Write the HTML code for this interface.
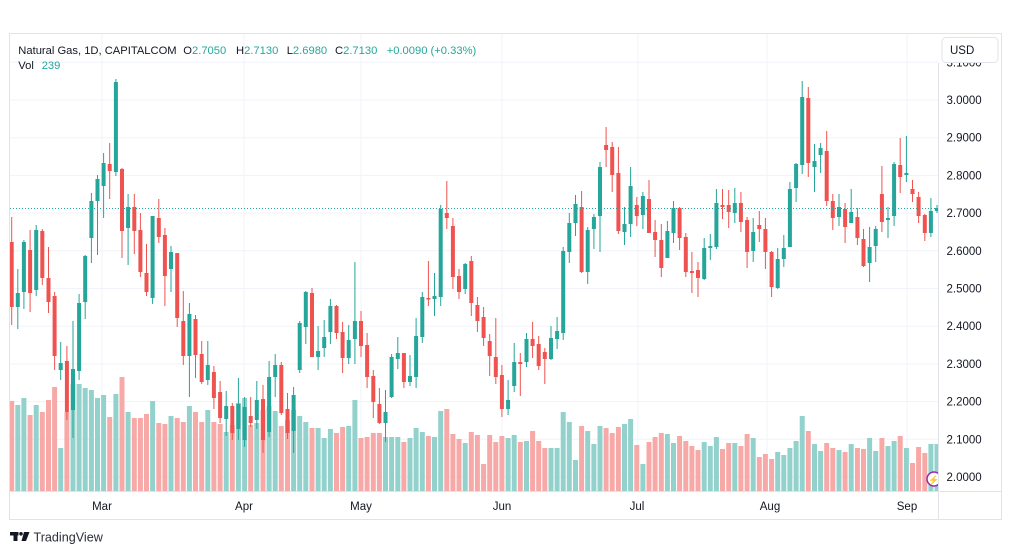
<!DOCTYPE html>
<html><head><meta charset="utf-8"><style>
html,body{margin:0;padding:0;background:#fff;}
svg{display:block;font-family:"Liberation Sans",sans-serif;}
.g{fill:#26a69a}.r{fill:#ef5350}.gv{fill:#93d2cc}.rv{fill:#f7a9a7}
</style></head><body>
<svg width="1012" height="555" viewBox="0 0 1012 555" xmlns="http://www.w3.org/2000/svg">
<defs><clipPath id="pc"><rect x="10" y="34" width="928.5" height="457"/></clipPath></defs>
<rect x="0" y="0" width="1012" height="555" fill="#fff"/>
<g stroke="#f0f3fa" stroke-width="1">
<line x1="10" y1="62.3" x2="938.5" y2="62.3"/><line x1="10" y1="100" x2="938.5" y2="100"/><line x1="10" y1="137.7" x2="938.5" y2="137.7"/><line x1="10" y1="175.4" x2="938.5" y2="175.4"/><line x1="10" y1="213.1" x2="938.5" y2="213.1"/><line x1="10" y1="250.8" x2="938.5" y2="250.8"/><line x1="10" y1="288.5" x2="938.5" y2="288.5"/><line x1="10" y1="326.2" x2="938.5" y2="326.2"/><line x1="10" y1="363.9" x2="938.5" y2="363.9"/><line x1="10" y1="401.6" x2="938.5" y2="401.6"/><line x1="10" y1="439.3" x2="938.5" y2="439.3"/><line x1="10" y1="477" x2="938.5" y2="477"/>
<line x1="102" y1="34" x2="102" y2="491"/><line x1="244" y1="34" x2="244" y2="491"/><line x1="361" y1="34" x2="361" y2="491"/><line x1="502" y1="34" x2="502" y2="491"/><line x1="638" y1="34" x2="638" y2="491"/><line x1="767" y1="34" x2="767" y2="491"/><line x1="907" y1="34" x2="907" y2="491"/>
</g>
<g clip-path="url(#pc)">
<g>
<rect class="rv" x="9.2" y="401" width="5" height="90"/><rect class="gv" x="15.3" y="405" width="5" height="86"/><rect class="gv" x="21.4" y="398" width="5" height="93"/><rect class="rv" x="27.6" y="415" width="5" height="76"/><rect class="gv" x="33.7" y="405" width="5" height="86"/><rect class="rv" x="39.8" y="412" width="5" height="79"/><rect class="rv" x="46" y="400" width="5" height="91"/><rect class="rv" x="52.1" y="387" width="5" height="104"/><rect class="gv" x="58.2" y="448" width="5" height="43"/><rect class="rv" x="64.4" y="412" width="5" height="79"/>
<rect class="gv" x="70.5" y="384" width="5" height="107"/><rect class="gv" x="76.6" y="384" width="5" height="107"/><rect class="gv" x="82.7" y="388" width="5" height="103"/><rect class="gv" x="88.9" y="390" width="5" height="101"/><rect class="gv" x="95" y="398" width="5" height="93"/><rect class="gv" x="101.1" y="395" width="5" height="96"/><rect class="rv" x="107.2" y="417" width="5" height="74"/><rect class="gv" x="113.4" y="394" width="5" height="97"/><rect class="rv" x="119.5" y="377" width="5" height="114"/><rect class="gv" x="125.6" y="412" width="5" height="79"/>
<rect class="rv" x="131.8" y="418" width="5" height="73"/><rect class="rv" x="137.9" y="418" width="5" height="73"/><rect class="rv" x="144" y="414" width="5" height="77"/><rect class="gv" x="150.1" y="401" width="5" height="90"/><rect class="rv" x="156.3" y="423" width="5" height="68"/><rect class="rv" x="162.4" y="424" width="5" height="67"/><rect class="gv" x="168.5" y="416" width="5" height="75"/><rect class="rv" x="174.7" y="418" width="5" height="73"/><rect class="rv" x="180.8" y="422" width="5" height="69"/><rect class="gv" x="186.9" y="406" width="5" height="85"/>
<rect class="rv" x="193" y="412" width="5" height="79"/><rect class="rv" x="199.2" y="422" width="5" height="69"/><rect class="gv" x="205.3" y="410" width="5" height="81"/><rect class="rv" x="211.4" y="422" width="5" height="69"/><rect class="rv" x="217.6" y="424" width="5" height="67"/><rect class="gv" x="223.7" y="432" width="5" height="59"/><rect class="rv" x="229.8" y="425" width="5" height="66"/><rect class="gv" x="235.9" y="403" width="5" height="88"/><rect class="gv" x="242.1" y="398" width="5" height="93"/><rect class="rv" x="248.2" y="425" width="5" height="66"/>
<rect class="gv" x="254.3" y="423" width="5" height="68"/><rect class="rv" x="260.5" y="410" width="5" height="81"/><rect class="gv" x="266.6" y="406" width="5" height="85"/><rect class="gv" x="272.7" y="411" width="5" height="80"/><rect class="rv" x="278.8" y="426" width="5" height="65"/><rect class="rv" x="285" y="420" width="5" height="71"/><rect class="gv" x="291.1" y="410" width="5" height="81"/><rect class="gv" x="297.2" y="416" width="5" height="75"/><rect class="gv" x="303.3" y="422" width="5" height="69"/><rect class="rv" x="309.5" y="428" width="5" height="63"/>
<rect class="gv" x="315.6" y="428" width="5" height="63"/><rect class="gv" x="321.7" y="438" width="5" height="53"/><rect class="gv" x="327.9" y="429" width="5" height="62"/><rect class="rv" x="334" y="433" width="5" height="58"/><rect class="rv" x="340.1" y="427" width="5" height="64"/><rect class="gv" x="346.2" y="426" width="5" height="65"/><rect class="gv" x="352.4" y="400" width="5" height="91"/><rect class="rv" x="358.5" y="438" width="5" height="53"/><rect class="rv" x="364.6" y="437" width="5" height="54"/><rect class="rv" x="370.8" y="433" width="5" height="58"/>
<rect class="rv" x="376.9" y="433" width="5" height="58"/><rect class="gv" x="383" y="437" width="5" height="54"/><rect class="gv" x="389.1" y="437" width="5" height="54"/><rect class="gv" x="395.3" y="437" width="5" height="54"/><rect class="rv" x="401.4" y="442" width="5" height="49"/><rect class="gv" x="407.5" y="438" width="5" height="53"/><rect class="gv" x="413.6" y="428" width="5" height="63"/><rect class="gv" x="419.8" y="432" width="5" height="59"/><rect class="rv" x="425.9" y="436" width="5" height="55"/><rect class="gv" x="432" y="437" width="5" height="54"/>
<rect class="gv" x="438.2" y="411" width="5" height="80"/><rect class="rv" x="444.3" y="409" width="5" height="82"/><rect class="rv" x="450.4" y="434" width="5" height="57"/><rect class="rv" x="456.5" y="439" width="5" height="52"/><rect class="gv" x="462.7" y="443" width="5" height="48"/><rect class="rv" x="468.8" y="432" width="5" height="59"/><rect class="rv" x="474.9" y="435" width="5" height="56"/><rect class="rv" x="481.1" y="464" width="5" height="27"/><rect class="rv" x="487.2" y="435" width="5" height="56"/><rect class="rv" x="493.3" y="442" width="5" height="49"/>
<rect class="rv" x="499.4" y="436" width="5" height="55"/><rect class="gv" x="505.6" y="438" width="5" height="53"/><rect class="gv" x="511.7" y="435" width="5" height="56"/><rect class="rv" x="517.8" y="442" width="5" height="49"/><rect class="gv" x="524" y="441" width="5" height="50"/><rect class="rv" x="530.1" y="431" width="5" height="60"/><rect class="rv" x="536.2" y="441" width="5" height="50"/><rect class="rv" x="542.3" y="448" width="5" height="43"/><rect class="gv" x="548.5" y="448" width="5" height="43"/><rect class="gv" x="554.6" y="448" width="5" height="43"/>
<rect class="gv" x="560.7" y="412" width="5" height="79"/><rect class="gv" x="566.8" y="422" width="5" height="69"/><rect class="gv" x="573" y="460" width="5" height="31"/><rect class="rv" x="579.1" y="426" width="5" height="65"/><rect class="gv" x="585.2" y="431" width="5" height="60"/><rect class="gv" x="591.4" y="444" width="5" height="47"/><rect class="gv" x="597.5" y="426" width="5" height="65"/><rect class="rv" x="603.6" y="428" width="5" height="63"/><rect class="rv" x="609.7" y="433" width="5" height="58"/><rect class="rv" x="615.9" y="427" width="5" height="64"/>
<rect class="gv" x="622" y="424" width="5" height="67"/><rect class="gv" x="628.1" y="419" width="5" height="72"/><rect class="rv" x="634.3" y="445" width="5" height="46"/><rect class="gv" x="640.4" y="464" width="5" height="27"/><rect class="rv" x="646.5" y="442" width="5" height="49"/><rect class="rv" x="652.6" y="437" width="5" height="54"/><rect class="rv" x="658.8" y="433" width="5" height="58"/><rect class="gv" x="664.9" y="434" width="5" height="57"/><rect class="gv" x="671" y="443" width="5" height="48"/><rect class="rv" x="677.1" y="436" width="5" height="55"/>
<rect class="rv" x="683.3" y="441" width="5" height="50"/><rect class="rv" x="689.4" y="446" width="5" height="45"/><rect class="rv" x="695.5" y="450" width="5" height="41"/><rect class="gv" x="701.7" y="442" width="5" height="49"/><rect class="gv" x="707.8" y="446" width="5" height="45"/><rect class="gv" x="713.9" y="437" width="5" height="54"/><rect class="rv" x="720" y="449" width="5" height="42"/><rect class="rv" x="726.2" y="443" width="5" height="48"/><rect class="gv" x="732.3" y="443" width="5" height="48"/><rect class="rv" x="738.4" y="446" width="5" height="45"/>
<rect class="rv" x="744.6" y="434" width="5" height="57"/><rect class="gv" x="750.7" y="438" width="5" height="53"/><rect class="rv" x="756.8" y="457" width="5" height="34"/><rect class="rv" x="762.9" y="454" width="5" height="37"/><rect class="rv" x="769.1" y="459" width="5" height="32"/><rect class="gv" x="775.2" y="452" width="5" height="39"/><rect class="gv" x="781.3" y="455" width="5" height="36"/><rect class="gv" x="787.4" y="448" width="5" height="43"/><rect class="gv" x="793.6" y="441" width="5" height="50"/><rect class="gv" x="799.7" y="416" width="5" height="75"/>
<rect class="rv" x="805.8" y="431" width="5" height="60"/><rect class="gv" x="812" y="444" width="5" height="47"/><rect class="gv" x="818.1" y="451" width="5" height="40"/><rect class="rv" x="824.2" y="443" width="5" height="48"/><rect class="rv" x="830.3" y="448" width="5" height="43"/><rect class="gv" x="836.5" y="450" width="5" height="41"/><rect class="rv" x="842.6" y="452" width="5" height="39"/><rect class="gv" x="848.7" y="444" width="5" height="47"/><rect class="rv" x="854.9" y="448" width="5" height="43"/><rect class="rv" x="861" y="449" width="5" height="42"/>
<rect class="gv" x="867.1" y="438" width="5" height="53"/><rect class="gv" x="873.2" y="451" width="5" height="40"/><rect class="rv" x="879.4" y="438" width="5" height="53"/><rect class="gv" x="885.5" y="446" width="5" height="45"/><rect class="gv" x="891.6" y="441" width="5" height="50"/><rect class="rv" x="897.7" y="436" width="5" height="55"/><rect class="gv" x="903.9" y="448" width="5" height="43"/><rect class="rv" x="910" y="463" width="5" height="28"/><rect class="rv" x="916.1" y="447" width="5" height="44"/><rect class="rv" x="922.3" y="453" width="5" height="38"/>
<rect class="gv" x="928.4" y="444" width="5" height="47"/><rect class="gv" x="934.5" y="444" width="5" height="47"/>
</g>
<g>
<rect class="r" x="9.7" y="242" width="4" height="65"/><rect class="r" x="11.2" y="217" width="1" height="108"/>
<rect class="g" x="15.8" y="293" width="4" height="14"/><rect class="g" x="17.3" y="269" width="1" height="60"/>
<rect class="g" x="21.9" y="242" width="4" height="50"/><rect class="g" x="23.4" y="240" width="1" height="69"/>
<rect class="r" x="28.1" y="250" width="4" height="43"/><rect class="r" x="29.6" y="230" width="1" height="82"/>
<rect class="g" x="34.2" y="230" width="4" height="60"/><rect class="g" x="35.7" y="225" width="1" height="71"/>
<rect class="r" x="40.3" y="231" width="4" height="47"/><rect class="r" x="41.8" y="229" width="1" height="56"/>
<rect class="r" x="46.5" y="278" width="4" height="24"/><rect class="r" x="48" y="247" width="1" height="66"/>
<rect class="r" x="52.6" y="296" width="4" height="60"/><rect class="r" x="54.1" y="292" width="1" height="78"/>
<rect class="g" x="58.7" y="363" width="4" height="7"/><rect class="g" x="60.2" y="342" width="1" height="38"/>
<rect class="r" x="64.9" y="361" width="4" height="51"/><rect class="r" x="66.4" y="346" width="1" height="74"/>
<rect class="g" x="71" y="369" width="4" height="41"/><rect class="g" x="72.5" y="321" width="1" height="117"/>
<rect class="g" x="77.1" y="303" width="4" height="68"/><rect class="g" x="78.6" y="294" width="1" height="86"/>
<rect class="g" x="83.2" y="256" width="4" height="46"/><rect class="g" x="84.7" y="255" width="1" height="64"/>
<rect class="g" x="89.4" y="201" width="4" height="37"/><rect class="g" x="90.9" y="193" width="1" height="70"/>
<rect class="g" x="95.5" y="179" width="4" height="22"/><rect class="g" x="97" y="175" width="1" height="80"/>
<rect class="g" x="101.6" y="163" width="4" height="23"/><rect class="g" x="103.1" y="153" width="1" height="65"/>
<rect class="r" x="107.7" y="164" width="4" height="7"/><rect class="r" x="109.2" y="143" width="1" height="56"/>
<rect class="g" x="113.9" y="82" width="4" height="90"/><rect class="g" x="115.4" y="79" width="1" height="97"/>
<rect class="r" x="120" y="169" width="4" height="62"/><rect class="r" x="121.5" y="168" width="1" height="90"/>
<rect class="g" x="126.1" y="207" width="4" height="21"/><rect class="g" x="127.6" y="194" width="1" height="71"/>
<rect class="r" x="132.3" y="207" width="4" height="24"/><rect class="r" x="133.8" y="194" width="1" height="60"/>
<rect class="r" x="138.4" y="230" width="4" height="42"/><rect class="r" x="139.9" y="213" width="1" height="64"/>
<rect class="r" x="144.5" y="273" width="4" height="19"/><rect class="r" x="146" y="244" width="1" height="52"/>
<rect class="g" x="150.6" y="216" width="4" height="82"/><rect class="g" x="152.1" y="216" width="1" height="88"/>
<rect class="r" x="156.8" y="218" width="4" height="19"/><rect class="r" x="158.3" y="199" width="1" height="44"/>
<rect class="r" x="162.9" y="235" width="4" height="41"/><rect class="r" x="164.4" y="228" width="1" height="78"/>
<rect class="g" x="169" y="252" width="4" height="17"/><rect class="g" x="170.5" y="246" width="1" height="46"/>
<rect class="r" x="175.2" y="253" width="4" height="65"/><rect class="r" x="176.7" y="253" width="1" height="74"/>
<rect class="r" x="181.3" y="321" width="4" height="35"/><rect class="r" x="182.8" y="291" width="1" height="74"/>
<rect class="g" x="187.4" y="314" width="4" height="42"/><rect class="g" x="188.9" y="303" width="1" height="94"/>
<rect class="r" x="193.5" y="319" width="4" height="36"/><rect class="r" x="195" y="315" width="1" height="63"/>
<rect class="r" x="199.7" y="354" width="4" height="28"/><rect class="r" x="201.2" y="341" width="1" height="43"/>
<rect class="g" x="205.8" y="365" width="4" height="15"/><rect class="g" x="207.3" y="341" width="1" height="44"/>
<rect class="r" x="211.9" y="372" width="4" height="26"/><rect class="r" x="213.4" y="366" width="1" height="43"/>
<rect class="r" x="218.1" y="392" width="4" height="26"/><rect class="r" x="219.6" y="381" width="1" height="42"/>
<rect class="g" x="224.2" y="406" width="4" height="13"/><rect class="g" x="225.7" y="391" width="1" height="45"/>
<rect class="r" x="230.3" y="406" width="4" height="27"/><rect class="r" x="231.8" y="403" width="1" height="37"/>
<rect class="g" x="236.4" y="404" width="4" height="25"/><rect class="g" x="237.9" y="378" width="1" height="62"/>
<rect class="g" x="242.6" y="407" width="4" height="33"/><rect class="g" x="244.1" y="397" width="1" height="50"/>
<rect class="r" x="248.7" y="416" width="4" height="7"/><rect class="r" x="250.2" y="397" width="1" height="30"/>
<rect class="g" x="254.8" y="400" width="4" height="20"/><rect class="g" x="256.3" y="381" width="1" height="48"/>
<rect class="r" x="261" y="399" width="4" height="41"/><rect class="r" x="262.5" y="385" width="1" height="68"/>
<rect class="g" x="267.1" y="377" width="4" height="55"/><rect class="g" x="268.6" y="361" width="1" height="76"/>
<rect class="g" x="273.2" y="365" width="4" height="12"/><rect class="g" x="274.7" y="354" width="1" height="43"/>
<rect class="r" x="279.3" y="365" width="4" height="48"/><rect class="r" x="280.8" y="362" width="1" height="53"/>
<rect class="r" x="285.5" y="409" width="4" height="24"/><rect class="r" x="287" y="393" width="1" height="46"/>
<rect class="g" x="291.6" y="395" width="4" height="36"/><rect class="g" x="293.1" y="387" width="1" height="66"/>
<rect class="g" x="297.7" y="323" width="4" height="47"/><rect class="g" x="299.2" y="321" width="1" height="52"/>
<rect class="g" x="303.8" y="292" width="4" height="35"/><rect class="g" x="305.3" y="291" width="1" height="53"/>
<rect class="r" x="310" y="293" width="4" height="64"/><rect class="r" x="311.5" y="288" width="1" height="69"/>
<rect class="g" x="316.1" y="351" width="4" height="6"/><rect class="g" x="317.6" y="326" width="1" height="44"/>
<rect class="g" x="322.2" y="337" width="4" height="11"/><rect class="g" x="323.7" y="320" width="1" height="37"/>
<rect class="g" x="328.4" y="306" width="4" height="26"/><rect class="g" x="329.9" y="299" width="1" height="45"/>
<rect class="r" x="334.5" y="306" width="4" height="27"/><rect class="r" x="336" y="305" width="1" height="34"/>
<rect class="r" x="340.6" y="332" width="4" height="26"/><rect class="r" x="342.1" y="322" width="1" height="51"/>
<rect class="g" x="346.7" y="340" width="4" height="18"/><rect class="g" x="348.2" y="325" width="1" height="39"/>
<rect class="g" x="352.9" y="321" width="4" height="18"/><rect class="g" x="354.4" y="262" width="1" height="102"/>
<rect class="r" x="359" y="321" width="4" height="25"/><rect class="r" x="360.5" y="311" width="1" height="46"/>
<rect class="r" x="365.1" y="345" width="4" height="32"/><rect class="r" x="366.6" y="333" width="1" height="55"/>
<rect class="r" x="371.3" y="376" width="4" height="26"/><rect class="r" x="372.8" y="370" width="1" height="48"/>
<rect class="r" x="377.4" y="404" width="4" height="19"/><rect class="r" x="378.9" y="388" width="1" height="36"/>
<rect class="g" x="383.5" y="412" width="4" height="11"/><rect class="g" x="385" y="390" width="1" height="52"/>
<rect class="g" x="389.6" y="357" width="4" height="40"/><rect class="g" x="391.1" y="354" width="1" height="44"/>
<rect class="g" x="395.8" y="353" width="4" height="6"/><rect class="g" x="397.3" y="337" width="1" height="32"/>
<rect class="r" x="401.9" y="353" width="4" height="29"/><rect class="r" x="403.4" y="353" width="1" height="35"/>
<rect class="g" x="408" y="376" width="4" height="6"/><rect class="g" x="409.5" y="355" width="1" height="31"/>
<rect class="g" x="414.1" y="336" width="4" height="41"/><rect class="g" x="415.6" y="318" width="1" height="70"/>
<rect class="g" x="420.3" y="297" width="4" height="40"/><rect class="g" x="421.8" y="292" width="1" height="51"/>
<rect class="r" x="426.4" y="298" width="4" height="1.5"/><rect class="r" x="427.9" y="261" width="1" height="45"/>
<rect class="g" x="432.5" y="296" width="4" height="3"/><rect class="g" x="434" y="273" width="1" height="43"/>
<rect class="g" x="438.7" y="209" width="4" height="88"/><rect class="g" x="440.2" y="205" width="1" height="101"/>
<rect class="r" x="444.8" y="213" width="4" height="5"/><rect class="r" x="446.3" y="181" width="1" height="48"/>
<rect class="r" x="450.9" y="226" width="4" height="51"/><rect class="r" x="452.4" y="218" width="1" height="71"/>
<rect class="r" x="457" y="276" width="4" height="16"/><rect class="r" x="458.5" y="269" width="1" height="30"/>
<rect class="g" x="463.2" y="264" width="4" height="25"/><rect class="g" x="464.7" y="263" width="1" height="31"/>
<rect class="r" x="469.3" y="261" width="4" height="42"/><rect class="r" x="470.8" y="256" width="1" height="60"/>
<rect class="r" x="475.4" y="305" width="4" height="16"/><rect class="r" x="476.9" y="297" width="1" height="35"/>
<rect class="r" x="481.6" y="317" width="4" height="21"/><rect class="r" x="483.1" y="307" width="1" height="39"/>
<rect class="r" x="487.7" y="341" width="4" height="15"/><rect class="r" x="489.2" y="334" width="1" height="42"/>
<rect class="r" x="493.8" y="357" width="4" height="20"/><rect class="r" x="495.3" y="318" width="1" height="66"/>
<rect class="r" x="499.9" y="375" width="4" height="34"/><rect class="r" x="501.4" y="365" width="1" height="52"/>
<rect class="g" x="506.1" y="400" width="4" height="9"/><rect class="g" x="507.6" y="380" width="1" height="35"/>
<rect class="g" x="512.2" y="362" width="4" height="24"/><rect class="g" x="513.7" y="343" width="1" height="49"/>
<rect class="r" x="518.3" y="362" width="4" height="2"/><rect class="r" x="519.8" y="353" width="1" height="43"/>
<rect class="g" x="524.5" y="339" width="4" height="23"/><rect class="g" x="526" y="333" width="1" height="34"/>
<rect class="r" x="530.6" y="339" width="4" height="7"/><rect class="r" x="532.1" y="322" width="1" height="36"/>
<rect class="r" x="536.7" y="344" width="4" height="22"/><rect class="r" x="538.2" y="336" width="1" height="34"/>
<rect class="r" x="542.8" y="352" width="4" height="7"/><rect class="r" x="544.3" y="348" width="1" height="36"/>
<rect class="g" x="549" y="338" width="4" height="21"/><rect class="g" x="550.5" y="326" width="1" height="34"/>
<rect class="g" x="555.1" y="331" width="4" height="8"/><rect class="g" x="556.6" y="317" width="1" height="32"/>
<rect class="g" x="561.2" y="251" width="4" height="82"/><rect class="g" x="562.7" y="247" width="1" height="93"/>
<rect class="g" x="567.3" y="223" width="4" height="29"/><rect class="g" x="568.8" y="213" width="1" height="50"/>
<rect class="g" x="573.5" y="204" width="4" height="19"/><rect class="g" x="575" y="195" width="1" height="41"/>
<rect class="r" x="579.6" y="207" width="4" height="65"/><rect class="r" x="581.1" y="191" width="1" height="82"/>
<rect class="g" x="585.7" y="230" width="4" height="42"/><rect class="g" x="587.2" y="227" width="1" height="57"/>
<rect class="g" x="591.9" y="217" width="4" height="12"/><rect class="g" x="593.4" y="214" width="1" height="35"/>
<rect class="g" x="598" y="167" width="4" height="49"/><rect class="g" x="599.5" y="162" width="1" height="90"/>
<rect class="r" x="604.1" y="145" width="4" height="5"/><rect class="r" x="605.6" y="127" width="1" height="40"/>
<rect class="r" x="610.2" y="147" width="4" height="28"/><rect class="r" x="611.7" y="142" width="1" height="50"/>
<rect class="r" x="616.4" y="173" width="4" height="58"/><rect class="r" x="617.9" y="147" width="1" height="87"/>
<rect class="g" x="622.5" y="224" width="4" height="8"/><rect class="g" x="624" y="207" width="1" height="38"/>
<rect class="g" x="628.6" y="186" width="4" height="38"/><rect class="g" x="630.1" y="167" width="1" height="70"/>
<rect class="r" x="634.8" y="205" width="4" height="11"/><rect class="r" x="636.3" y="197" width="1" height="29"/>
<rect class="g" x="640.9" y="196" width="4" height="19"/><rect class="g" x="642.4" y="192" width="1" height="37"/>
<rect class="r" x="647" y="199" width="4" height="34"/><rect class="r" x="648.5" y="180" width="1" height="53"/>
<rect class="r" x="653.1" y="232" width="4" height="8"/><rect class="r" x="654.6" y="220" width="1" height="37"/>
<rect class="r" x="659.3" y="240" width="4" height="28"/><rect class="r" x="660.8" y="224" width="1" height="53"/>
<rect class="g" x="665.4" y="231" width="4" height="27"/><rect class="g" x="666.9" y="221" width="1" height="37"/>
<rect class="g" x="671.5" y="208" width="4" height="25"/><rect class="g" x="673" y="201" width="1" height="42"/>
<rect class="r" x="677.6" y="208" width="4" height="30"/><rect class="r" x="679.1" y="207" width="1" height="43"/>
<rect class="r" x="683.8" y="237" width="4" height="35"/><rect class="r" x="685.3" y="233" width="1" height="44"/>
<rect class="r" x="689.9" y="271" width="4" height="2"/><rect class="r" x="691.4" y="252" width="1" height="41"/>
<rect class="r" x="696" y="270" width="4" height="8"/><rect class="r" x="697.5" y="262" width="1" height="35"/>
<rect class="g" x="702.2" y="248" width="4" height="31"/><rect class="g" x="703.7" y="238" width="1" height="42"/>
<rect class="g" x="708.3" y="246" width="4" height="2"/><rect class="g" x="709.8" y="234" width="1" height="26"/>
<rect class="g" x="714.4" y="203" width="4" height="44"/><rect class="g" x="715.9" y="189" width="1" height="60"/>
<rect class="r" x="720.5" y="205" width="4" height="2"/><rect class="r" x="722" y="189" width="1" height="30"/>
<rect class="r" x="726.7" y="205" width="4" height="7"/><rect class="r" x="728.2" y="190" width="1" height="38"/>
<rect class="g" x="732.8" y="203" width="4" height="10"/><rect class="g" x="734.3" y="188" width="1" height="35"/>
<rect class="r" x="738.9" y="203" width="4" height="19"/><rect class="r" x="740.4" y="192" width="1" height="40"/>
<rect class="r" x="745.1" y="220" width="4" height="32"/><rect class="r" x="746.6" y="217" width="1" height="51"/>
<rect class="g" x="751.2" y="232" width="4" height="19"/><rect class="g" x="752.7" y="218" width="1" height="44"/>
<rect class="r" x="757.3" y="225" width="4" height="4"/><rect class="r" x="758.8" y="211" width="1" height="31"/>
<rect class="r" x="763.4" y="229" width="4" height="23"/><rect class="r" x="764.9" y="218" width="1" height="51"/>
<rect class="r" x="769.6" y="252" width="4" height="35"/><rect class="r" x="771.1" y="251" width="1" height="46"/>
<rect class="g" x="775.7" y="259" width="4" height="29"/><rect class="g" x="777.2" y="248" width="1" height="41"/>
<rect class="g" x="781.8" y="248" width="4" height="11"/><rect class="g" x="783.3" y="235" width="1" height="32"/>
<rect class="g" x="787.9" y="189" width="4" height="58"/><rect class="g" x="789.4" y="182" width="1" height="65"/>
<rect class="g" x="794.1" y="164" width="4" height="24"/><rect class="g" x="795.6" y="163" width="1" height="39"/>
<rect class="g" x="800.2" y="97" width="4" height="68"/><rect class="g" x="801.7" y="81" width="1" height="93"/>
<rect class="r" x="806.3" y="98" width="4" height="65"/><rect class="r" x="807.8" y="87" width="1" height="90"/>
<rect class="g" x="812.5" y="161" width="4" height="6"/><rect class="g" x="814" y="144" width="1" height="48"/>
<rect class="g" x="818.6" y="148" width="4" height="7"/><rect class="g" x="820.1" y="143" width="1" height="30"/>
<rect class="r" x="824.7" y="151" width="4" height="50"/><rect class="r" x="826.2" y="131" width="1" height="75"/>
<rect class="r" x="830.8" y="201" width="4" height="17"/><rect class="r" x="832.3" y="194" width="1" height="36"/>
<rect class="g" x="837" y="207" width="4" height="10"/><rect class="g" x="838.5" y="194" width="1" height="32"/>
<rect class="r" x="843.1" y="209" width="4" height="18"/><rect class="r" x="844.6" y="203" width="1" height="40"/>
<rect class="g" x="849.2" y="212" width="4" height="11"/><rect class="g" x="850.7" y="189" width="1" height="34"/>
<rect class="r" x="855.4" y="217" width="4" height="21"/><rect class="r" x="856.9" y="208" width="1" height="37"/>
<rect class="r" x="861.5" y="239" width="4" height="27"/><rect class="r" x="863" y="229" width="1" height="38"/>
<rect class="g" x="867.6" y="247" width="4" height="16"/><rect class="g" x="869.1" y="227" width="1" height="55"/>
<rect class="g" x="873.7" y="229" width="4" height="17"/><rect class="g" x="875.2" y="226" width="1" height="36"/>
<rect class="r" x="879.9" y="194" width="4" height="28"/><rect class="r" x="881.4" y="166" width="1" height="66"/>
<rect class="g" x="886" y="218" width="4" height="2"/><rect class="g" x="887.5" y="207" width="1" height="31"/>
<rect class="g" x="892.1" y="164" width="4" height="52"/><rect class="g" x="893.6" y="162" width="1" height="64"/>
<rect class="r" x="898.2" y="165" width="4" height="12"/><rect class="r" x="899.7" y="138" width="1" height="55"/>
<rect class="g" x="904.4" y="173" width="4" height="2"/><rect class="g" x="905.9" y="136" width="1" height="46"/>
<rect class="r" x="910.5" y="189" width="4" height="5"/><rect class="r" x="912" y="180" width="1" height="22"/>
<rect class="r" x="916.6" y="197" width="4" height="19"/><rect class="r" x="918.1" y="192" width="1" height="31"/>
<rect class="r" x="922.8" y="215" width="4" height="18"/><rect class="r" x="924.3" y="214" width="1" height="27"/>
<rect class="g" x="928.9" y="211" width="4" height="22"/><rect class="g" x="930.4" y="198" width="1" height="39"/>
<rect class="g" x="935" y="208" width="4" height="3"/><rect class="g" x="936.5" y="205" width="1" height="8"/>
</g>
<line x1="10" y1="208.5" x2="938.5" y2="208.5" stroke="#26a69a" stroke-width="1" stroke-dasharray="1 2"/>
<circle cx="934" cy="479" r="7" fill="#fff" stroke="#9c27b0" stroke-width="1.5"/>
<text x="934" y="483" font-size="9" fill="#9c27b0" text-anchor="middle">⚡</text>
</g>
<rect x="939" y="34" width="62" height="457" fill="#fff"/>
<rect x="9.5" y="33.5" width="992" height="486" fill="none" stroke="#e0e3eb" stroke-width="1"/>
<line x1="10" y1="491.5" x2="1001.5" y2="491.5" stroke="#e0e3eb" stroke-width="1"/>
<line x1="938.5" y1="63" x2="938.5" y2="519.5" stroke="#e0e3eb" stroke-width="1"/>
<g font-size="11.5" fill="#131722">
<text x="946.5" y="66.3">3.1000</text>
<text x="946.5" y="104">3.0000</text>
<text x="946.5" y="141.7">2.9000</text>
<text x="946.5" y="179.4">2.8000</text>
<text x="946.5" y="217.1">2.7000</text>
<text x="946.5" y="254.8">2.6000</text>
<text x="946.5" y="292.5">2.5000</text>
<text x="946.5" y="330.2">2.4000</text>
<text x="946.5" y="367.9">2.3000</text>
<text x="946.5" y="405.6">2.2000</text>
<text x="946.5" y="443.3">2.1000</text>
<text x="946.5" y="481">2.0000</text>
</g>
<rect x="942" y="37.5" width="56" height="25" rx="4" fill="#fff" stroke="#e0e3eb" stroke-width="1"/>
<text x="950" y="54" font-size="11.5" fill="#131722">USD</text>
<g font-size="11.5" fill="#131722" text-anchor="middle">
<text x="102" y="510">Mar</text>
<text x="244" y="510">Apr</text>
<text x="361" y="510">May</text>
<text x="502" y="510">Jun</text>
<text x="637" y="510">Jul</text>
<text x="770" y="510">Aug</text>
<text x="907" y="510">Sep</text>
</g>
<g font-size="11.2">
<text x="18.3" y="54" fill="#131722">Natural Gas, 1D, CAPITALCOM</text>
<text x="183.3" y="54" fill="#131722">O<tspan fill="#26a69a">2.7050</tspan></text>
<text x="236" y="54" fill="#131722">H<tspan fill="#26a69a">2.7130</tspan></text>
<text x="286.7" y="54" fill="#131722">L<tspan fill="#26a69a">2.6980</tspan></text>
<text x="335" y="54" fill="#131722">C<tspan fill="#26a69a">2.7130</tspan></text>
<text x="386.7" y="54" fill="#26a69a">+0.0090 (+0.33%)</text>
<text x="18.3" y="69" fill="#131722">Vol</text>
<text x="41.7" y="69" fill="#26a69a">239</text>
</g>
<g fill="#131722">
<rect x="10" y="532" width="8.5" height="3.5"/>
<rect x="13.5" y="532" width="4" height="9"/>
<circle cx="21" cy="533.8" r="1.8"/>
<polygon points="24,532 29.5,532 26,541 21.5,541"/>
</g>
<text x="33.5" y="541.5" font-size="12.6" fill="#2a2e39">TradingView</text>
</svg>
</body></html>
